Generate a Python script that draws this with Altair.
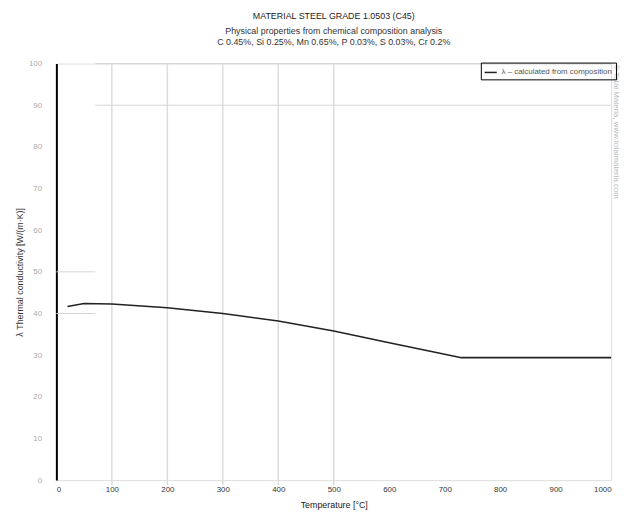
import altair as alt
import pandas as pd

# data
temps = [20, 50, 100, 200, 300, 400, 500, 600, 700, 730, 1000]
conductivity = [41.7, 42.4, 42.3, 41.4, 40.0, 38.2, 35.8, 33.0, 30.2, 29.4, 29.4]
series_name = "λ – calculated from composition"

x_ticks = [0, 100, 200, 300, 400, 500, 600, 700, 800, 900, 1000]
y_ticks = [0, 10, 20, 30, 40, 50, 60, 70, 80, 90, 100]

# partial grid lines as seen in the picture
vgrid_x = [100, 200, 300, 400, 500]
hgrid_y = [100, 90, 50, 40]
hgrid_x_from = [70, 70, 0, 0]
hgrid_x_to = [1000, 1000, 70, 70]

title_text = "MATERIAL STEEL GRADE 1.0503 (C45)"
subtitle_lines = [
    "Physical properties from chemical composition analysis",
    "C 0.45%, Si 0.25%, Mn 0.65%, P 0.03%, S 0.03%, Cr 0.2%",
]
watermark = "© Total Materia, www.totalmateria.com"

W, H = 562, 422

df = pd.DataFrame({"T": temps, "k": conductivity, "s": [series_name] * len(temps)})
hg = pd.DataFrame({"y": hgrid_y, "x1": hgrid_x_from, "x2": hgrid_x_to})
vg = pd.DataFrame({"x": vgrid_x})

xscale = alt.Scale(domain=[0, 1000], nice=False)
yscale = alt.Scale(domain=[0, 100], nice=False)

hgrid = alt.Chart(hg).mark_rule(color="#d4d4d4", strokeWidth=1).encode(
    x=alt.X("x1:Q", scale=xscale),
    x2="x2:Q",
    y=alt.Y("y:Q", scale=yscale),
)

vgrid = alt.Chart(vg).mark_rule(color="#dddddd", strokeWidth=1.5).encode(
    x=alt.X("x:Q", scale=xscale),
    y=alt.value(0),
    y2=alt.value(H + 5),
)

line = alt.Chart(df).mark_line(strokeWidth=1.6).encode(
    x=alt.X(
        "T:Q",
        scale=xscale,
        title="Temperature [°C]",
        axis=alt.Axis(
            values=x_ticks,
            format="d",
            grid=False,
            domain=False,
            ticks=False,
            labelFontSize=8,
            labelColor="#333333",
            labelPadding=6,
            titleFontSize=9,
            titleFontWeight="normal",
            titleColor="#222222",
            titlePadding=7,
        ),
    ),
    y=alt.Y(
        "k:Q",
        scale=yscale,
        title="λ  Thermal conductivity [W/(m·K)]",
        axis=alt.Axis(
            values=y_ticks,
            grid=False,
            domainColor="#000000",
            domainWidth=2,
            ticks=False,
            labelFontSize=8,
            labelColor="#aaaaaa",
            labelPadding=15,
            titleFontSize=9,
            titleFontWeight="normal",
            titleColor="#333333",
            titlePadding=4,
        ),
    ),
    color=alt.Color(
        "s:N",
        scale=alt.Scale(range=["#222222"]),
        legend=alt.Legend(
            title=None,
            orient="none",
            legendX=430,
            legendY=-1,
            strokeColor="#000000",
            padding=3,
            labelFontSize=8,
            labelColor="#555555",
            symbolType="stroke",
            symbolStrokeWidth=1.5,
            symbolSize=150,
        ),
    ),
)

wm = alt.Chart(pd.DataFrame({"t": [watermark]})).mark_text(
    angle=90, align="left", baseline="middle", fontSize=8, color="#bbbbbb"
).encode(text="t:N", x=alt.value(W + 5), y=alt.value(1))

chart = alt.layer(vgrid, hgrid, line, wm).properties(
    width=W,
    height=H,
    title=alt.TitleParams(
        text=title_text,
        subtitle=subtitle_lines,
        fontSize=9,
        fontWeight="normal",
        color="#222222",
        subtitleFontSize=9,
        subtitleColor="#333333",
        subtitlePadding=6,
        anchor="middle",
        offset=13,
    ),
    autosize=alt.AutoSizeParams(type="none"),
    padding={"left": 49, "top": 53, "right": 10, "bottom": 28},
).configure_view(stroke=None).configure(font="Liberation Sans")

chart.save("out.html", embed_options={"renderer": "svg", "actions": False})
